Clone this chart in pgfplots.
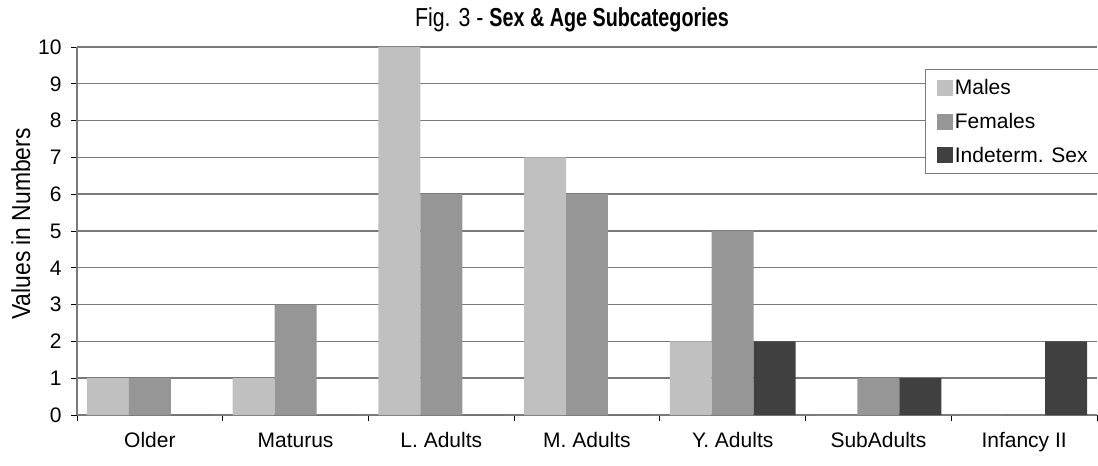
\documentclass[border=0pt]{standalone}
\usepackage{fontspec}
\setmainfont{Liberation Sans}
\newfontfamily\condfont{Liberation Sans}[FakeStretch=0.82, BoldFeatures={FakeStretch=0.76}]
\newfontfamily\ylabfont{Liberation Sans}[FakeStretch=0.88]
\usepackage{pgfplots}
\pgfplotsset{compat=1.18}
\definecolor{males}{HTML}{C0C0C0}
\definecolor{females}{HTML}{969696}
\definecolor{indet}{HTML}{404040}
\definecolor{gridc}{HTML}{7A7A7A}

\begin{document}
\begin{tikzpicture}
\useasboundingbox (-77bp,-51bp) rectangle (1021bp,415bp);
\begin{axis}[at={(0,0)}, anchor=south west,
  scale only axis, width=1020bp, height=368bp, clip=false,
  ymin=0, ymax=10, ytick={0,...,10},
  xmin=-0.5, xmax=6.5,
  xtick={-0.5,0.5,...,6.5}, x tick label as interval,
  xticklabels={Older,Maturus,L. Adults,M. Adults,Y. Adults,SubAdults,Infancy II},
  axis lines*=left, tick align=outside,
  major tick length=6bp,
  axis line style={gridc, line width=1.4bp},
  tick style={black, line width=0.8bp},
  ymajorgrids, grid style={gridc, line width=1.4bp},
  ybar, bar width=0.288,
  font=\fontsize{21bp}{25bp}\selectfont,
  /pgf/number format/assume math mode=true,
  yticklabel style={xshift=-6bp},
  xticklabel style={text height=15bp, text depth=4bp, yshift=-8bp},
  ylabel={\ylabfont\fontsize{26bp}{30bp}\selectfont Values in Numbers},
  ylabel style={at={(axis description cs:-0.055,0.519)}, anchor=center},
  legend style={at={(axis description cs:1.004,0.940)}, anchor=north east,
    draw=gridc, line width=1bp, inner xsep=11bp, inner ysep=8bp,
    font=\fontsize{21bp}{25bp}\selectfont, row sep=13bp,
    /tikz/every even column/.append style={column sep=1bp}},
  legend image code/.code={\fill[#1, draw=none] (0bp,-8bp) rectangle (16bp,8bp);},
  legend cell align=left,
]
\addplot[fill=males, draw=none, bar shift=-0.288] coordinates {
  (0,1) (1,1) (2,10) (3,7) (4,2) (5,0) (6,0)};
\addplot[fill=females, draw=none, bar shift=0] coordinates {
  (0,1) (1,3) (2,6) (3,6) (4,5) (5,1) (6,0)};
\addplot[fill=indet, draw=none, bar shift=0.288] coordinates {
  (0,0) (1,0) (2,0) (3,0) (4,2) (5,1) (6,2)};
\legend{Males,Females,Indeterm. Sex}
\node[anchor=base, font=\condfont\fontsize{26bp}{30bp}\selectfont]
  at (axis description cs:0.4735,1) [yshift=20bp, xshift=12bp] {Fig. 3 - \textbf{Sex \& Age Subcategories}};
\end{axis}
\end{tikzpicture}
\end{document}
